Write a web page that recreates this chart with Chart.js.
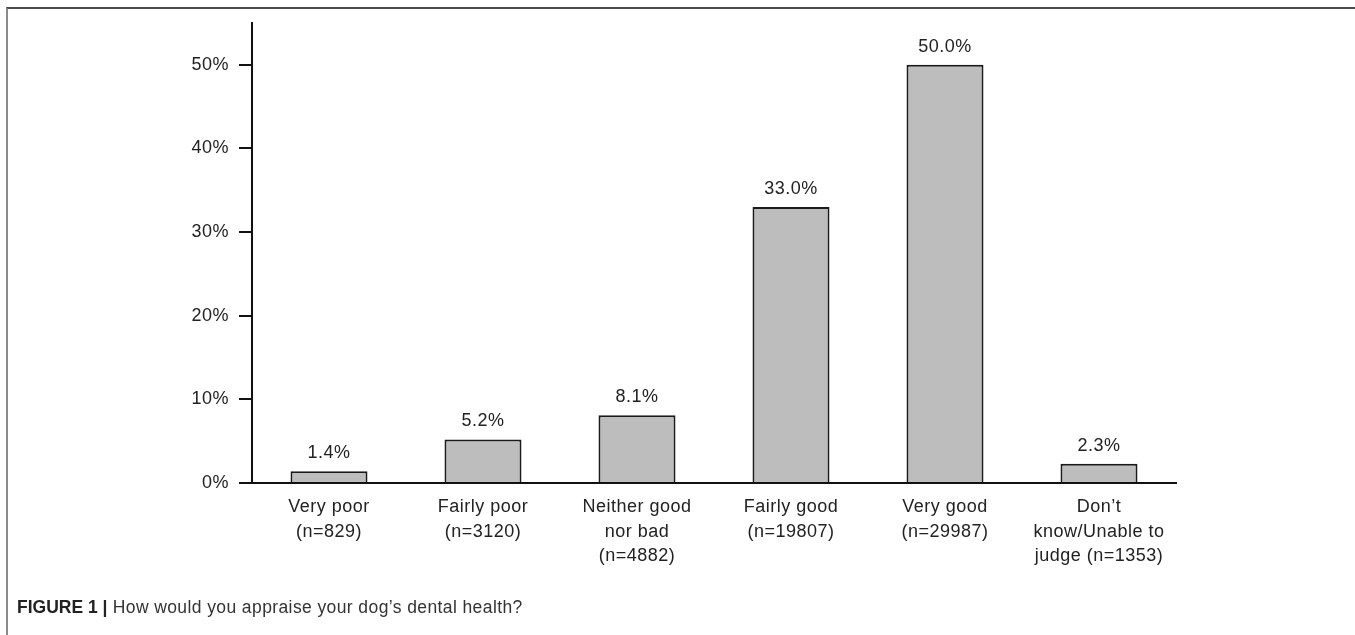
<!DOCTYPE html>
<html>
<head>
<meta charset="utf-8">
<script src="https://cdn.jsdelivr.net/npm/chart.js@4"></script>
<style>
  html, body { margin: 0; padding: 0; background: #fff; }
  body { width: 1355px; height: 635px; position: relative; overflow: hidden; }
  #frame { position: absolute; left: 6px; top: 7px; right: -10px; bottom: -10px;
           border-top: 2px solid #4a4a4a; border-left: 2px solid #8a8a8a; }
  #c { position: absolute; left: 0; top: 0; }
  #caption { position: absolute; left: 17px; top: 597px; font-family: "Liberation Sans", Arial, sans-serif;
             font-size: 17.5px; letter-spacing: 0.4px; color: #333; white-space: nowrap; line-height: 20px; }
  #caption b { color: #222; letter-spacing: 0; }
</style>
</head>
<body>
<div id="frame"></div>
<canvas id="c" width="1355" height="635"></canvas>
<div id="caption"><b>FIGURE 1 |</b> How would you appraise your dog’s dental health?</div>
<script>
const categories = [
  ["Very poor", "(n=829)"],
  ["Fairly poor", "(n=3120)"],
  ["Neither good", "nor bad", "(n=4882)"],
  ["Fairly good", "(n=19807)"],
  ["Very good", "(n=29987)"],
  ["Don’t", "know/Unable to", "judge (n=1353)"]
];
const percentages = [1.4, 5.2, 8.1, 33.0, 50.0, 2.3];
const yTicks = [0, 10, 20, 30, 40, 50];

const TEXT = '#222';
const FONT = 'Liberation Sans, Arial, Helvetica, sans-serif';
const SPACING = '0.5px';

const spacingPlugin = {
  id: 'spacing',
  beforeInit(chart) { chart.ctx.letterSpacing = SPACING; },
  beforeUpdate(chart) { chart.ctx.letterSpacing = SPACING; },
  beforeDraw(chart) { chart.ctx.letterSpacing = SPACING; }
};

const valueLabels = {
  id: 'valueLabels',
  afterDatasetsDraw(chart) {
    const ctx = chart.ctx;
    const meta = chart.getDatasetMeta(0);
    ctx.save();
    ctx.letterSpacing = SPACING;
    ctx.font = '18px ' + FONT;
    ctx.fillStyle = TEXT;
    ctx.textAlign = 'center';
    ctx.textBaseline = 'middle';
    meta.data.forEach((el, i) => {
      ctx.fillText(percentages[i].toFixed(1) + '%', el.x, el.y - 18);
    });
    ctx.restore();
  }
};

new Chart(document.getElementById('c'), {
  type: 'bar',
  data: {
    labels: categories,
    datasets: [{
      data: percentages,
      backgroundColor: '#bdbdbd',
      borderColor: '#1a1a1a',
      borderWidth: 2,
      borderSkipped: 'bottom',
      barPercentage: 0.5,
      categoryPercentage: 1.0
    }]
  },
  options: {
    responsive: false,
    animation: false,
    devicePixelRatio: 1,
    layout: { padding: { top: 23, right: 179, left: 0, bottom: 0 } },
    plugins: { legend: { display: false }, tooltip: { enabled: false }, title: { display: false } },
    scales: {
      x: {
        grid: { display: false, drawTicks: false },
        border: { display: true, color: '#111', width: 2 },
        ticks: { color: TEXT, font: { family: FONT, size: 18, lineHeight: 1.36 }, padding: 12, maxRotation: 0, autoSkip: false },
        afterFit(scale) { scale.height = 152; }
      },
      y: {
        min: 0, max: 55,
        afterBuildTicks(scale) { scale.ticks = yTicks.map(v => ({ value: v })); },
        ticks: { stepSize: 10, includeBounds: false, color: TEXT, font: { family: FONT, size: 18 }, padding: 10,
                 callback: v => v + '%' },
        grid: { drawOnChartArea: false, drawTicks: true, tickLength: 13, color: '#111', lineWidth: 2 },
        border: { display: true, color: '#111', width: 2 },
        afterFit(scale) { scale.width = 252; }
      }
    }
  },
  plugins: [spacingPlugin, valueLabels]
});
</script>
</body>
</html>
